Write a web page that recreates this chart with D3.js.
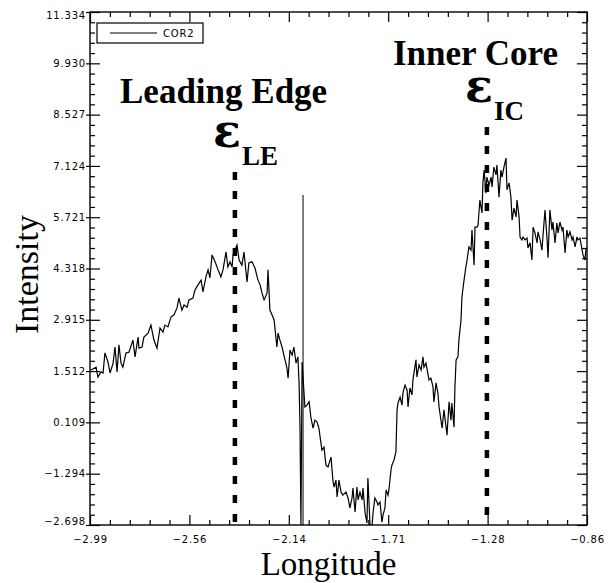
<!DOCTYPE html>
<html>
<head>
<meta charset="utf-8">
<script src="https://cdn.jsdelivr.net/npm/d3@7"></script>
<style>
	body{margin:0;background:#fff}
	svg{display:block}
	.tick text{font-family:"DejaVu Sans",sans-serif;font-size:10px;letter-spacing:0.8px;fill:#000}
	.tick line{stroke:#000;stroke-width:1.2}
</style>
</head>
<body>
<div id="chart"></div>
<script>
// COR2 profile, intensity along longitude
var lon = [
	-2.986,-2.964,-2.956,-2.943,-2.934,-2.926,-2.913,-2.904,-2.891,-2.883,
	-2.874,-2.866,-2.857,-2.849,-2.836,-2.823,-2.806,-2.797,-2.784,-2.780,
	-2.767,-2.759,-2.741,-2.729,-2.716,-2.703,-2.690,-2.677,-2.669,-2.656,
	-2.643,-2.630,-2.617,-2.609,-2.596,-2.587,-2.574,-2.566,-2.549,
	-2.540,-2.527,-2.514,-2.506,-2.493,-2.484,-2.476,-2.467,-2.454,-2.441,
	-2.429,-2.420,-2.407,-2.399,-2.390,-2.381,-2.377,-2.369,-2.360,-2.351,
	-2.339,-2.330,-2.317,-2.309,-2.296,-2.283,-2.270,-2.261,-2.253,-2.244,
	-2.231,-2.227,-2.219,-2.210,-2.201,-2.189,-2.184,-2.176,-2.167,-2.159,
	-2.146,-2.141,-2.133,-2.124,-2.116,-2.107,-2.099,-2.094,-2.090,-2.086,
	-2.081,-2.069,
	-2.060,-2.051,-2.043,-2.034,-2.026,-2.017,-2.009,-1.996,-1.987,-1.979,
	-1.970,-1.957,-1.949,-1.944,-1.936,-1.931,-1.923,-1.914,-1.906,-1.893,
	-1.884,-1.876,-1.867,-1.863,-1.854,-1.846,-1.841,-1.833,-1.824,-1.820,
	-1.811,-1.803,-1.799,-1.790,-1.781,-1.777,-1.769,-1.760,-1.756,-1.747,
	-1.739,-1.734,-1.726,-1.721,-1.713,-1.709,-1.700,-1.696,-1.687,-1.679,
	-1.674,-1.670,-1.661,-1.653,-1.649,-1.640,-1.631,-1.627,-1.619,-1.610,
	-1.606,-1.593,-1.589,-1.580,-1.571,-1.563,-1.559,-1.550,-1.541,-1.537,
	-1.529,-1.520,-1.516,-1.507,-1.499,-1.494,-1.486,-1.481,-1.473,-1.464,
	-1.460,-1.451,-1.443,-1.439,-1.430,-1.426,-1.421,-1.413,-1.409,-1.400,
	-1.396,-1.387,-1.379,-1.374,-1.366,-1.357,-1.353,-1.344,-1.340,-1.331,
	-1.327,
	-1.319,-1.310,-1.306,-1.301,-1.293,-1.289,-1.280,-1.271,-1.267,-1.259,
	-1.250,-1.246,-1.237,-1.229,-1.224,-1.216,-1.207,-1.203,-1.194,-1.186,
	-1.181,-1.173,-1.164,-1.160,-1.151,-1.147,-1.139,-1.134,-1.126,-1.117,
	-1.113,-1.104,-1.096,-1.091,-1.083,-1.074,-1.070,-1.061,-1.053,-1.049,
	-1.040,-1.031,-1.027,-1.019,-1.010,-1.006,-0.997,-0.989,-0.984,-0.976,
	-0.967,-0.963,-0.954,-0.946,-0.941,-0.933,-0.924,-0.920,-0.911,-0.903,
	-0.899,-0.890,-0.881,-0.877,-0.869,-0.864
]
var intensity = [
	1.54,1.62,1.35,1.49,1.46,2.01,1.76,1.46,1.73,2.17,
	1.49,2.23,1.73,1.62,2.01,2.03,2.36,1.90,2.44,2.14,
	2.17,2.44,2.55,2.77,2.36,2.14,2.69,2.58,2.77,2.72,
	2.99,3.05,3.24,3.51,3.18,3.32,3.26,3.46,3.51,
	3.73,3.87,4.00,3.68,4.09,4.28,4.06,4.69,4.50,4.28,
	4.09,4.28,4.77,4.36,4.50,4.36,4.69,4.82,4.96,4.55,
	4.41,4.77,3.95,4.47,4.50,4.33,4.00,3.87,3.65,3.46,
	3.65,4.28,3.18,3.05,2.91,2.17,2.55,2.36,2.17,1.95,
	1.60,1.32,2.09,1.95,2.17,1.73,1.90,1.19,-0.02,-2.70,
	1.76,0.53,
	0.58,0.67,0.23,-0.05,0.17,0.12,-0.05,-0.65,-0.57,-1.06,
	-1.11,-0.84,-1.47,-1.66,-1.47,-1.93,-1.47,-1.80,-1.88,-1.80,
	-1.96,-2.23,-1.96,-1.69,-2.34,-1.66,-2.01,-1.80,-2.01,-1.69,
	-2.37,-2.64,-1.41,-2.70,-2.70,-2.37,-1.96,-2.07,-2.15,-2.07,
	-2.62,-2.42,-2.23,-1.74,-1.88,-1.74,-1.19,-1.06,-0.92,-0.70,
	0.45,0.64,0.80,0.58,0.91,1.13,0.99,0.53,1.05,0.86,
	1.27,1.82,1.35,1.68,1.54,1.90,1.62,1.73,1.41,1.27,
	1.32,1.08,0.67,1.19,0.91,0.53,0.17,-0.05,0.45,-0.02,
	-0.24,0.67,0.17,0.64,-0.02,1.08,1.82,1.90,2.36,2.91,
	3.54,4.00,4.36,4.55,4.91,4.82,5.37,4.41,5.45,5.45,
	5.51,
	6.19,5.84,6.66,7.01,6.38,6.82,6.60,6.82,6.55,7.09,
	6.88,7.15,6.27,7.01,6.82,7.09,7.34,6.47,6.66,6.27,
	5.64,5.97,5.73,6.19,5.73,5.18,5.10,5.18,5.10,5.15,
	4.88,5.02,4.55,5.45,5.29,5.02,5.32,5.10,4.82,5.18,
	5.92,5.10,4.61,5.92,5.37,5.59,5.02,5.56,5.29,5.59,
	5.37,5.45,4.74,5.37,5.18,5.32,5.10,5.18,4.91,5.18,
	5.10,5.15,4.82,4.69,4.55,4.88
]

var xTicks = [-2.99,-2.564,-2.138,-1.712,-1.286,-0.86]
var xTickLabels = ["\u22122.99","\u22122.56","\u22122.14","\u22121.71","\u22121.28","\u22120.86"]
var yTicks = [-2.698,-1.294,0.109,1.512,2.915,4.318,5.721,7.124,8.527,9.930,11.334]
var yTickLabels = ["\u22122.698","\u22121.294","0.109","1.512","2.915","4.318","5.721","7.124","8.527","9.930","11.334"]

// dashed epsilon markers and the thin vertical line
var markerNames = ["LE","IC"]
var markerLon = [-2.369,-1.289]
var markerTop = [6.96,8.19]
var spikeLon = [-2.077]
var spikeTop = [6.33]

var margin = {top:12,right:21,bottom:58,left:90}
var fullWidth = 608, fullHeight = 583
var width = fullWidth - margin.left - margin.right
var height = fullHeight - margin.top - margin.bottom

var svg = d3.select("#chart").append("svg")
	.attr("width",fullWidth)
	.attr("height",fullHeight)
	.style("background","#fff")

var g = svg.append("g").attr("transform",`translate(${margin.left},${margin.top})`)

var x = d3.scaleLinear().domain([xTicks[0],xTicks[xTicks.length-1]]).range([0,width])
var y = d3.scaleLinear().domain([yTicks[0],yTicks[yTicks.length-1]]).range([height,0])

var minors = ticks => {
	let out = []
	for(let i=0;i<ticks.length-1;i++){
		for(let k=1;k<5;k++) out.push(ticks[i]+(ticks[i+1]-ticks[i])*k/5)
	}
	return out
}

svg.append("defs").append("clipPath").attr("id","plot")
	.append("rect").attr("width",width).attr("height",height)

// tick marks without labels: the text nodes are dropped
var bare = (axis,shift) => {
	let a = g.append("g").attr("transform",shift || null).call(axis.tickFormat(""))
	a.selectAll("text").remove()
	return a
}

// minor ticks on all four sides
bare(d3.axisBottom(x).tickValues(minors(xTicks)).tickSize(-5),`translate(0,${height})`)
bare(d3.axisTop(x).tickValues(minors(xTicks)).tickSize(-5))
bare(d3.axisLeft(y).tickValues(minors(yTicks)).tickSize(-5))
bare(d3.axisRight(y).tickValues(minors(yTicks)).tickSize(-5),`translate(${width},0)`)

// major ticks
g.append("g").attr("transform",`translate(0,${height})`)
	.call(d3.axisBottom(x).tickValues(xTicks).tickSize(-10).tickPadding(11).tickFormat((d,i)=>xTickLabels[i]))
bare(d3.axisTop(x).tickValues(xTicks).tickSize(-10))
var yAxis = g.append("g")
	.call(d3.axisLeft(y).tickValues(yTicks).tickSize(-10).tickPadding(4).tickFormat((d,i)=>yTickLabels[i]))
bare(d3.axisLeft(y).tickValues(yTicks).tickSize(4))
bare(d3.axisRight(y).tickValues(yTicks).tickSize(-10),`translate(${width},0)`)

g.selectAll(".domain").remove()

// keep end labels inside the frame height
yAxis.selectAll(".tick text")
	.attr("y",d=>d==yTicks[0]?-4:(d==yTicks[yTicks.length-1]?3:0))

g.append("rect")
	.attr("width",width)
	.attr("height",height)
	.attr("fill","none")
	.attr("stroke","#000")
	.attr("stroke-width",1.4)

var points = lon.map((l,i)=>({lon:l,intensity:intensity[i]}))

g.append("path")
	.datum(points)
	.attr("clip-path","url(#plot)")
	.attr("fill","none")
	.attr("stroke","#000")
	.attr("stroke-width",1.2)
	.attr("d",d3.line().x(d=>x(d.lon)).y(d=>y(d.intensity)))

g.selectAll(".spike")
	.data(spikeLon)
	.enter().append("line")
	.attr("class","spike")
	.attr("x1",d=>x(d)).attr("x2",d=>x(d))
	.attr("y1",(d,i)=>y(spikeTop[i])).attr("y2",height)
	.attr("stroke","#000")
	.attr("stroke-width",1)

g.selectAll(".marker")
	.data(markerLon)
	.enter().append("line")
	.attr("class","marker")
	.attr("x1",d=>x(d)).attr("x2",d=>x(d))
	.attr("y1",(d,i)=>y(markerTop[i])).attr("y2",height-1)
	.attr("stroke","#000")
	.attr("stroke-width",4.5)
	.attr("stroke-dasharray","8,11")

// legend
var legend = g.append("g").attr("transform","translate(7,11)")
legend.append("rect")
	.attr("width",106).attr("height",20)
	.attr("fill","#fff").attr("stroke","#000").attr("stroke-width",1.2)
legend.append("line")
	.attr("x1",13).attr("x2",60).attr("y1",10).attr("y2",10)
	.attr("stroke","#000").attr("stroke-width",1)
legend.append("text")
	.attr("x",66).attr("y",14)
	.style("font-family","DejaVu Sans,sans-serif")
	.style("font-size","10px")
	.style("letter-spacing","0.8px")
	.text("COR2")

// annotations
var serifBold = sel => sel.style("font-family","Liberation Serif,Times New Roman,serif").style("font-weight","bold")

svg.append("text").attr("x",120).attr("y",103).call(serifBold).style("font-size","35px").text("Leading Edge")
svg.append("text").attr("x",393).attr("y",65).call(serifBold).style("font-size","35px").text("Inner Core")

markerNames.forEach((name,i)=>{
	let cx = margin.left + x(markerLon[i])
	let top = margin.top + y(markerTop[i])
	svg.append("text").attr("x",cx-22).attr("y",top-25)
		.style("font-family","DejaVu Serif,serif").style("font-weight","bold")
		.style("font-size","46px").text("\u03b5")
	svg.append("text").attr("x",cx+7).attr("y",top-7).call(serifBold).style("font-size","27px").text(name)
})

svg.append("text")
	.attr("x",margin.left+width/2-10).attr("y",575)
	.attr("text-anchor","middle")
	.style("font-family","Liberation Serif,Times New Roman,serif")
	.style("font-size","33px")
	.text("Longitude")

svg.append("text")
	.attr("transform",`translate(38,${margin.top+height/2+6}) rotate(-90)`)
	.attr("text-anchor","middle")
	.style("font-family","Liberation Serif,Times New Roman,serif")
	.style("font-size","34px")
	.text("Intensity")
</script>
</body>
</html>
